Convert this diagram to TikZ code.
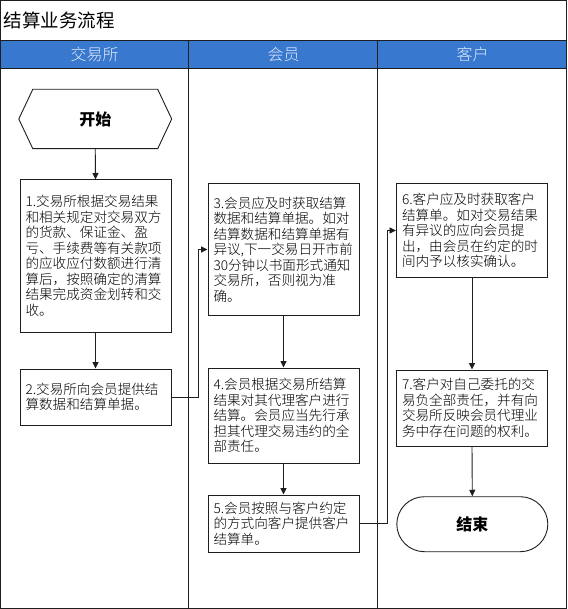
\documentclass[tikz,border=0pt]{standalone}
\usepackage{fontspec}
\newfontfamily\cjk{Noto Sans CJK SC}
\newfontfamily\cjkl{Noto Sans CJK SC Light}
\usetikzlibrary{arrows.meta,calc}
\definecolor{hdrblue}{RGB}{56,120,206}
\definecolor{hdrtext}{RGB}{226,236,252}
\definecolor{linec}{RGB}{30,30,30}
\newcommand\boxfont{\cjkl\fontsize{13.6}{15.5}\selectfont\color{black}}
\begin{document}
\begin{tikzpicture}[x=1pt,y=-1pt,
  frame/.style={draw=linec, line width=1.3pt},
  lanehead/.style={font=\cjkl\fontsize{16}{18}\selectfont, text=hdrtext, inner sep=0pt},
  stepbox/.style={draw=linec, line width=1pt, fill=white, minimum width=151pt,
    text width=140pt, align=left, inner xsep=5.5pt, inner ysep=0pt, font=\boxfont},
  term/.style={font=\cjk\bfseries\fontsize{16}{18}\selectfont, inner sep=0pt},
  arr/.style={-{Triangle[length=6.5pt,width=6pt]}, draw=linec, line width=0.9pt}]
\useasboundingbox (0,0) rectangle (567,609);
% title and header
\fill[white] (0,0) rectangle (567,609);
\fill[hdrblue] (0,40.7) rectangle (567,68.3);
\node[anchor=west, inner sep=0pt, font=\cjk\fontsize{18.5}{20}\selectfont] (title) at (3.5,20.5) {结算业务流程};
\node[lanehead] (h1) at (94.5,54.5) {交易所};
\node[lanehead] (h2) at (283.5,54.5) {会员};
\node[lanehead] (h3) at (472.5,54.5) {客户};
\draw[frame] (0.6,0.6) rectangle (566.4,608.2);
\draw[frame] (0,40.7) -- (567,40.7);
\draw[frame] (0,68.3) -- (567,68.3);
\draw[frame] (188.8,40.7) -- (188.8,608.2);
\draw[frame] (377.8,40.7) -- (377.8,608.2);
% start
\node[term, minimum width=152.5pt, minimum height=59pt] (start) at (95.25,119) {开始};
\draw[draw=linec, line width=0.9pt] (start.west) -- ([xshift=14pt]start.north west) -- ([xshift=-14pt]start.north east) -- (start.east) -- ([xshift=-14pt]start.south east) -- ([xshift=14pt]start.south west) -- cycle;
% boxes
\node[stepbox, minimum height=152pt] (b1) at (95.5,256) {1.交易所根据交易结果\\和相关规定对交易双方\\的货款、保证金、盈\\亏、手续费等有关款项\\的应收应付数额进行清\\算后，按照确定的清算\\结果完成资金划转和交\\收。};
\node[stepbox, minimum height=56pt] (b2) at (95.5,397) {2.交易所向会员提供结\\算数据和结算单据。};
\node[stepbox, minimum height=132.4pt] (b3) at (283.5,249.5) {3.会员应及时获取结算\\数据和结算单据。如对\\结算数据和结算单据有\\异议,下一交易日开市前\\30分钟以书面形式通知\\交易所，否则视为准\\确。};
\node[stepbox, minimum height=95pt] (b4) at (283.5,415.5) {4.会员根据交易所结算\\结果对其代理客户进行\\结算。会员应当先行承\\担其代理交易违约的全\\部责任。};
\node[stepbox, minimum height=57pt] (b5) at (283.5,523.5) {5.会员按照与客户约定\\的方式向客户提供客户\\结算单。};
\node[stepbox, minimum width=150pt, minimum height=94.4pt] (b6) at (472,230.5) {6.客户应及时获取客户\\结算单。如对交易结果\\有异议的应向会员提\\出，由会员在约定的时\\间内予以核实确认。};
\node[stepbox, minimum width=150pt, minimum height=76pt] (b7) at (472,408) {7.客户对自己委托的交\\易负全部责任，并有向\\交易所反映会员代理业\\务中存在问题的权利。};
\node[term, draw=linec, line width=0.9pt, minimum width=151pt, minimum height=55pt, rounded corners=27.5pt] (end) at (472.3,524.2) {结束};
% connectors
\coordinate (c1) at (198,397);
\coordinate (c2) at (387,523.5);
\draw[arr] (start.south) -- (b1.north);
\draw[arr] (b1.south) -- (b2.north);
\draw[arr] (b2.east) -- (c1) |- (b3.west);
\draw[arr] (b3.south) -- (b4.north);
\draw[arr] (b4.south) -- (b5.north);
\draw[arr] (b5.east) -- (c2) |- (b6.west);
\draw[arr] (b6.south) -- (b7.north);
\draw[arr] (b7.south) -- (end.north);
\end{tikzpicture}
\end{document}
